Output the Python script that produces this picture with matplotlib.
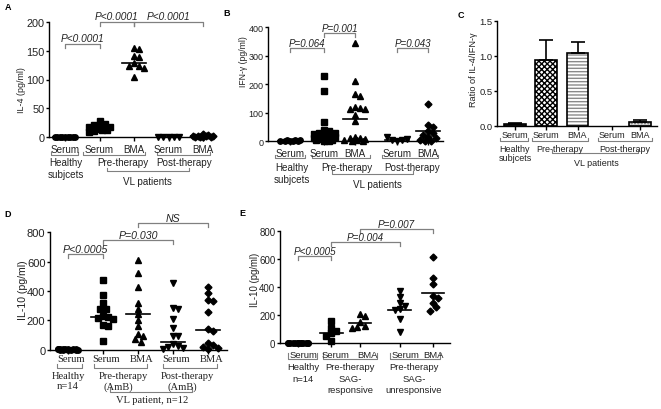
import numpy as np
import matplotlib
matplotlib.use('Agg')
import matplotlib.pyplot as plt
from matplotlib import transforms

plt.rcParams['font.family'] = ['Liberation Sans', 'DejaVu Sans']
plt.rcParams['hatch.linewidth'] = 1.0

W, H = 661, 410
fig = plt.figure(figsize=(W / 100, H / 100), dpi=100)

# ---------------- DATA ----------------
# Panel A: IL-4 (pg/ml)
a_healthy = [0, 0, 0, 0, 0, 0, 0, 0, 0]
a_pre_serum = [28, 23, 21, 19, 18, 17, 16, 15, 14, 13, 12, 11, 10]
a_pre_bma = [155, 152, 141, 139, 128, 123, 123, 120, 105]
a_post_serum = [1, 1, 1, 1, 1]
a_post_bma = [6, 4, 3, 3, 2, 2, 1, 1, 1, 0]
a_center = [0, 16, 128, 1, 2]
a_p = [(0, 1, 162, 'P<0.0001'), (1, 2, 200, 'P<0.0001'), (2, 4, 200, 'P<0.0001')]

# Panel B: IFN-gamma (pg/ml)
b_healthy = [2, 3, 1, 4, 2, 3, 1, 2]
b_pre_serum = [230, 178, 68, 38, 35, 30, 28, 25, 22, 20, 18, 15, 12, 10, 8, 5, 3, 2, 1]
b_pre_bma = [344, 210, 167, 159, 120, 117, 115, 112, 92, 72, 15, 12, 10, 8, 5, 3, 2, 1]
b_post_serum = [2, 3, 5, 8, 15]
b_post_bma = [130, 58, 50, 35, 28, 22, 15, 10, 5, 2, 1]
b_center = [2, 33, 77, 5, 36]
b_p = [(0, 1, 327, 'P=0.064'), (1, 2, 379, 'P=0.001'), (3, 4, 327, 'P=0.043')]

# Panel C: ratio IL-4 / IFN-gamma (mean + error)
c_mean = [0.02, 0.94, 1.04, 0.0, 0.05]
c_err = [0.02, 0.28, 0.15, 0.0, 0.03]

# Panel D: IL-10 (pg/ml), AmB
d_healthy = [0, 2, 3, 1, 5, 4, 0, 2, 1, 3, 2, 0, 1, 4]
d_pre_serum = [475, 370, 315, 280, 275, 230, 222, 215, 210, 165, 160, 60]
d_pre_bma = [610, 520, 425, 320, 280, 240, 200, 160, 110, 90, 75, 55]
d_post_serum = [455, 285, 275, 210, 150, 95, 90, 40, 25, 15, 10, 5]
d_post_bma = [430, 385, 340, 330, 255, 140, 125, 45, 30, 15, 10, 5]
d_center = [0, 225, 240, 55, 135]
d_p = [(0, 1, 651, 'P<0.0005'), (1, 3, 746, 'P=0.030'), (2, 4, 861, 'NS')]

# Panel E: IL-10 (pg/ml), SAG
e_healthy = [0, 1, 2, 0, 3, 1, 2, 0, 1, 2, 0, 1, 3, 2]
e_resp_serum = [155, 110, 85, 70, 50, 15]
e_resp_bma = [205, 195, 150, 125, 115, 105]
e_unresp_serum = [375, 330, 290, 265, 240, 235, 175, 80]
e_unresp_bma = [615, 465, 425, 335, 325, 290, 255, 230]
e_center = [0, 75, 143, 236, 357]
e_p = [(0, 1, 621, 'P<0.0005'), (1, 3, 721, 'P=0.004'), (2, 4, 814, 'P=0.007')]

cat_labels = ['Serum', 'Serum', 'BMA', 'Serum', 'BMA']
markers = ['o', 's', '^', 'v', 'D']
msizes = [3.9, 3.7, 4.5, 4.5, 3.5]

GREY = '#808080'
TXT = '#222222'
FS = 7.1


def make_axes(x0, x1, ytop, ybot, origin, unit, ylim, yticks, ytl, yfs):
    ax = fig.add_axes([x0 / W, 1 - ybot / H, (x1 - x0) / W, (ybot - ytop) / H])
    ax.set_xlim((x0 - origin) / unit, (x1 - origin) / unit)
    ax.set_ylim(*ylim)
    ax.set_autoscale_on(False)
    for s in ['top', 'right']:
        ax.spines[s].set_visible(False)
    for s in ['left', 'bottom']:
        ax.spines[s].set_linewidth(1.0)
    ax.set_yticks(yticks)
    ax.set_yticklabels(ytl, fontsize=yfs, color=TXT)
    ax.tick_params(axis='y', direction='out', length=2.5, width=1.0, pad=0.8)
    ax.tick_params(axis='x', direction='out', length=3, width=1.0, labelbottom=False)
    ax.patch.set_alpha(0)
    ax.ypu = (ybot - ytop) / (ylim[1] - ylim[0])  # px per unit (y)
    ax.xpu = unit
    ax.tr = transforms.blended_transform_factory(ax.transData, fig.transFigure)
    return ax


def swarm_offsets(vals, ypu, d=5.2, maxw=11.0):
    placed, offs = [], []
    step = d * 0.5
    cands = [0.0]
    for k in range(1, int(maxw / step) + 1):
        cands += [k * step, -k * step]
    for v in vals:
        y = v * ypu
        chosen, best, bestd = None, 0.0, -1
        for c in cands:
            md = min([np.hypot(c - px, y - py) for px, py in placed], default=1e9)
            if md >= d:
                chosen = c
                break
            if md > bestd:
                bestd, best = md, c
        if chosen is None:
            chosen = best
        placed.append((chosen, y))
        offs.append(chosen)
    return offs


def scatter_panel(ax, pos, groups, centers):
    for i, (p, vals) in enumerate(zip(pos, groups)):
        offs = swarm_offsets(vals, ax.ypu)
        xs = [p + o / ax.xpu for o in offs]
        ax.plot(xs, vals, linestyle='none', marker=markers[i], ms=msizes[i],
                color='black', mec='black', clip_on=False, zorder=3)
        ax.plot([p - 0.34, p + 0.34], [centers[i], centers[i]], color='black',
                lw=1.2, clip_on=False, zorder=4)
    ax.set_xticks(pos)


def pbrackets(ax, pos, specs, fs=7.3):
    for i, j, y, t in specs:
        x1, x2 = pos[i], pos[j]
        drop = 4 / ax.ypu
        ax.plot([x1, x1, x2, x2], [y - drop, y, y, y - drop], color=GREY, lw=0.9,
                clip_on=False, zorder=2)
        ax.text((x1 + x2) / 2, y + 2.2 / ax.ypu, t, ha='center', va='baseline',
                style='italic', fontsize=fs, color=TXT, clip_on=False)


def gbracket(ax, x1, x2, py, tick=3):
    y = 1 - py / H
    yt = 1 - (py - tick) / H
    ax.plot([x1, x1, x2, x2], [yt, y, y, yt], transform=ax.tr, color=GREY,
            lw=0.8, clip_on=False)


def gtext(ax, x, py, s, fs=FS, family=None):
    kw = {}
    if family:
        kw['family'] = family
    ax.text(x, 1 - py / H, s, transform=ax.tr, ha='center', va='center',
            fontsize=fs, color=TXT, clip_on=False, **kw)


def ylabel(px, py, s, fs):
    fig.text(px / W, 1 - py / H, s, rotation=90, ha='center', va='center',
             fontsize=fs, color=TXT)


def letter(px, py, s):
    fig.text(px / W, 1 - py / H, s, ha='center', va='center', fontsize=6.5,
             fontweight='bold')


# ---------------- Panel A ----------------
posA = [0, 1, 2, 3, 4]
axA = make_axes(49, 213, 22.7, 138.3, 65, 34.5, (0, 200), [0, 50, 100, 150, 200],
                ['0', '50', '100', '150', '200'], 7.8)
scatter_panel(axA, posA, [a_healthy, a_pre_serum, a_pre_bma, a_post_serum, a_post_bma], a_center)
pbrackets(axA, posA, a_p)
for p, l in zip(posA, cat_labels):
    gtext(axA, p, 150, l)
gbracket(axA, -0.4, 0.38, 156)
gbracket(axA, 0.52, 2.32, 156)
gbracket(axA, 2.67, 4.2, 156)
gbracket(axA, 1.22, 3.6, 172)
gtext(axA, 0.03, 163, 'Healthy')
gtext(axA, 0.03, 175, 'subjcets')
gtext(axA, 1.68, 163, 'Pre-therapy')
gtext(axA, 3.45, 163, 'Post-therapy')
gtext(axA, 2.38, 182, 'VL patients')
ylabel(22, 90, 'IL-4 (pg/ml)', 6.4)
letter(8, 8, 'A')

# ---------------- Panel B ----------------
posB = [0, 0.99, 1.88, 3.1, 4.0]
axB = make_axes(268, 443, 28.3, 142.3, 290, 34.5, (0, 400), [0, 100, 200, 300, 400],
                ['0', '100', '200', '300', '400'], 6.5)
scatter_panel(axB, posB, [b_healthy, b_pre_serum, b_pre_bma, b_post_serum, b_post_bma], b_center)
pbrackets(axB, posB, b_p, fs=7.0)
for p, l in zip(posB, cat_labels):
    gtext(axB, p, 154, l)
gbracket(axB, -0.43, 0.43, 159)
gbracket(axB, 0.64, 2.32, 159)
gbracket(axB, 2.67, 4.29, 159)
gbracket(axB, 1.22, 3.57, 175)
gtext(axB, 0.06, 168, 'Healthy')
gtext(axB, 0.06, 180, 'subjcets')
gtext(axB, 1.65, 168, 'Pre-therapy')
gtext(axB, 3.54, 168, 'Post-therapy')
gtext(axB, 2.52, 185, 'VL patients')
ylabel(244, 62, 'IFN-γ (pg/ml)', 6.2)
letter(227, 14, 'B')

# ---------------- Panel C ----------------
CFS = 6.5
posC = [0, 1, 2, 3.1, 4]
axC = make_axes(497, 657, 21.7, 126.7, 515, 31.25, (0, 1.5), [0, 0.5, 1.0, 1.5],
                ['0.0', '0.5', '1.0', '1.5'], 6.8)
axC.set_xticks(posC)
bw = 0.7
styles = [
    dict(fc='#3a3a3a', hatch=None, hc=None),
    dict(fc='white', hatch='xxxxxx', hc='black'),
    dict(fc='white', hatch='-----', hc='#8a8a8a'),
    dict(fc='white', hatch=None, hc=None),
    dict(fc='#d8d8d8', hatch='.....', hc='#707070'),
]
for p, m, st in zip(posC, c_mean, styles):
    if m <= 0:
        continue
    if st['hatch']:
        axC.bar(p, m, width=bw, color=st['fc'], hatch=st['hatch'], edgecolor=st['hc'],
                linewidth=0, zorder=2)
        axC.bar(p, m, width=bw, fill=False, edgecolor='black', linewidth=1.2, zorder=3)
    else:
        axC.bar(p, m, width=bw, color=st['fc'], edgecolor='black', linewidth=1.2, zorder=3)
ep = [p for p, m, e in zip(posC, c_mean, c_err) if e > 0]
em = [m for m, e in zip(c_mean, c_err) if e > 0]
ee = [e for e in c_err if e > 0]
axC.errorbar(ep, em, yerr=[np.zeros(len(ee)), ee], fmt='none', ecolor='black',
             elinewidth=1.2, capsize=5.2, capthick=1.2, zorder=4, clip_on=False)
for p, l in zip(posC, cat_labels):
    gtext(axC, p, 136, l, fs=CFS)
gbracket(axC, -0.48, 0.42, 142)
gbracket(axC, 0.54, 2.34, 142)
gbracket(axC, 2.66, 4.38, 142)
gbracket(axC, 1.18, 3.94, 154)
gtext(axC, 0.0, 149, 'Healthy', fs=CFS)
gtext(axC, 0.0, 159, 'subjcets', fs=CFS)
gtext(axC, 1.44, 149, 'Pre-therapy', fs=CFS)
gtext(axC, 3.52, 149, 'Post-therapy', fs=CFS)
gtext(axC, 2.62, 164, 'VL patients', fs=CFS)
ylabel(474, 70, 'Ratio of IL-4/IFN-γ', 6.6)
letter(461, 15, 'C')

# ---------------- Panel D ----------------
posD = [0, 1, 2, 3, 4]
axD = make_axes(50, 227, 233.3, 350.7, 68, 35, (0, 800), [0, 200, 400, 600, 800],
                ['0', '200', '400', '600', '800'], 8)
scatter_panel(axD, posD, [d_healthy, d_pre_serum, d_pre_bma, d_post_serum, d_post_bma], d_center)
pbrackets(axD, posD, d_p, fs=7.6)
SER = ['Liberation Serif', 'DejaVu Serif']
SFS = 7.6
for p, l in zip(posD, cat_labels):
    gtext(axD, p + 0.1, 360, l, fs=SFS, family=SER)
gbracket(axD, -0.31, 0.4, 369, tick=4)
gbracket(axD, 0.74, 2.26, 369, tick=4)
gbracket(axD, 2.71, 4.26, 369, tick=4)
gbracket(axD, 1.2, 3.54, 393, tick=5)
gtext(axD, 0.0, 377, 'Healthy', fs=SFS, family=SER)
gtext(axD, 0.0, 387, 'n=14', fs=SFS, family=SER)
gtext(axD, 1.57, 377, 'Pre-therapy', fs=SFS, family=SER)
gtext(axD, 1.43, 387, '(AmB)', fs=SFS, family=SER)
gtext(axD, 3.4, 377, 'Post-therapy', fs=SFS, family=SER)
gtext(axD, 3.26, 387, '(AmB)', fs=SFS, family=SER)
gtext(axD, 2.4, 401, 'VL patient, n=12', fs=SFS, family=SER)
ylabel(23, 290, 'IL-10 (pg/ml)', 7.6)
letter(8, 215, 'D')

# ---------------- Panel E ----------------
EFS = 6.8
posE = [0, 0.99, 1.85, 3.04, 4.03]
axE = make_axes(280, 450, 232.3, 344, 298, 33.5, (0, 800), [0, 200, 400, 600, 800],
                ['0', '200', '400', '600', '800'], 7.0)
scatter_panel(axE, posE, [e_healthy, e_resp_serum, e_resp_bma, e_unresp_serum, e_unresp_bma], e_center)
pbrackets(axE, posE, e_p, fs=7.1)
for x, l in zip([0.15, 1.13, 2.08, 3.2, 4.03], cat_labels):
    gtext(axE, x, 356, l, fs=EFS)
gbracket(axE, -0.3, 0.57, 360, tick=6)
gbracket(axE, 0.75, 2.36, 360, tick=6)
gbracket(axE, 2.75, 4.24, 360, tick=6)
gtext(axE, 0.15, 368, 'Healthy', fs=EFS)
gtext(axE, 0.15, 380, 'n=14', fs=EFS)
gtext(axE, 1.56, 368, 'Pre-therapy', fs=EFS)
gtext(axE, 1.56, 380, 'SAG-', fs=EFS)
gtext(axE, 1.56, 391, 'responsive', fs=EFS)
gtext(axE, 3.46, 368, 'Pre-therapy', fs=EFS)
gtext(axE, 3.46, 380, 'SAG-', fs=EFS)
gtext(axE, 3.46, 391, 'unresponsive', fs=EFS)
ylabel(255, 280, 'IL-10 (pg/ml)', 6.9)
letter(242, 214, 'E')

fig.savefig('out.png', dpi=100)
